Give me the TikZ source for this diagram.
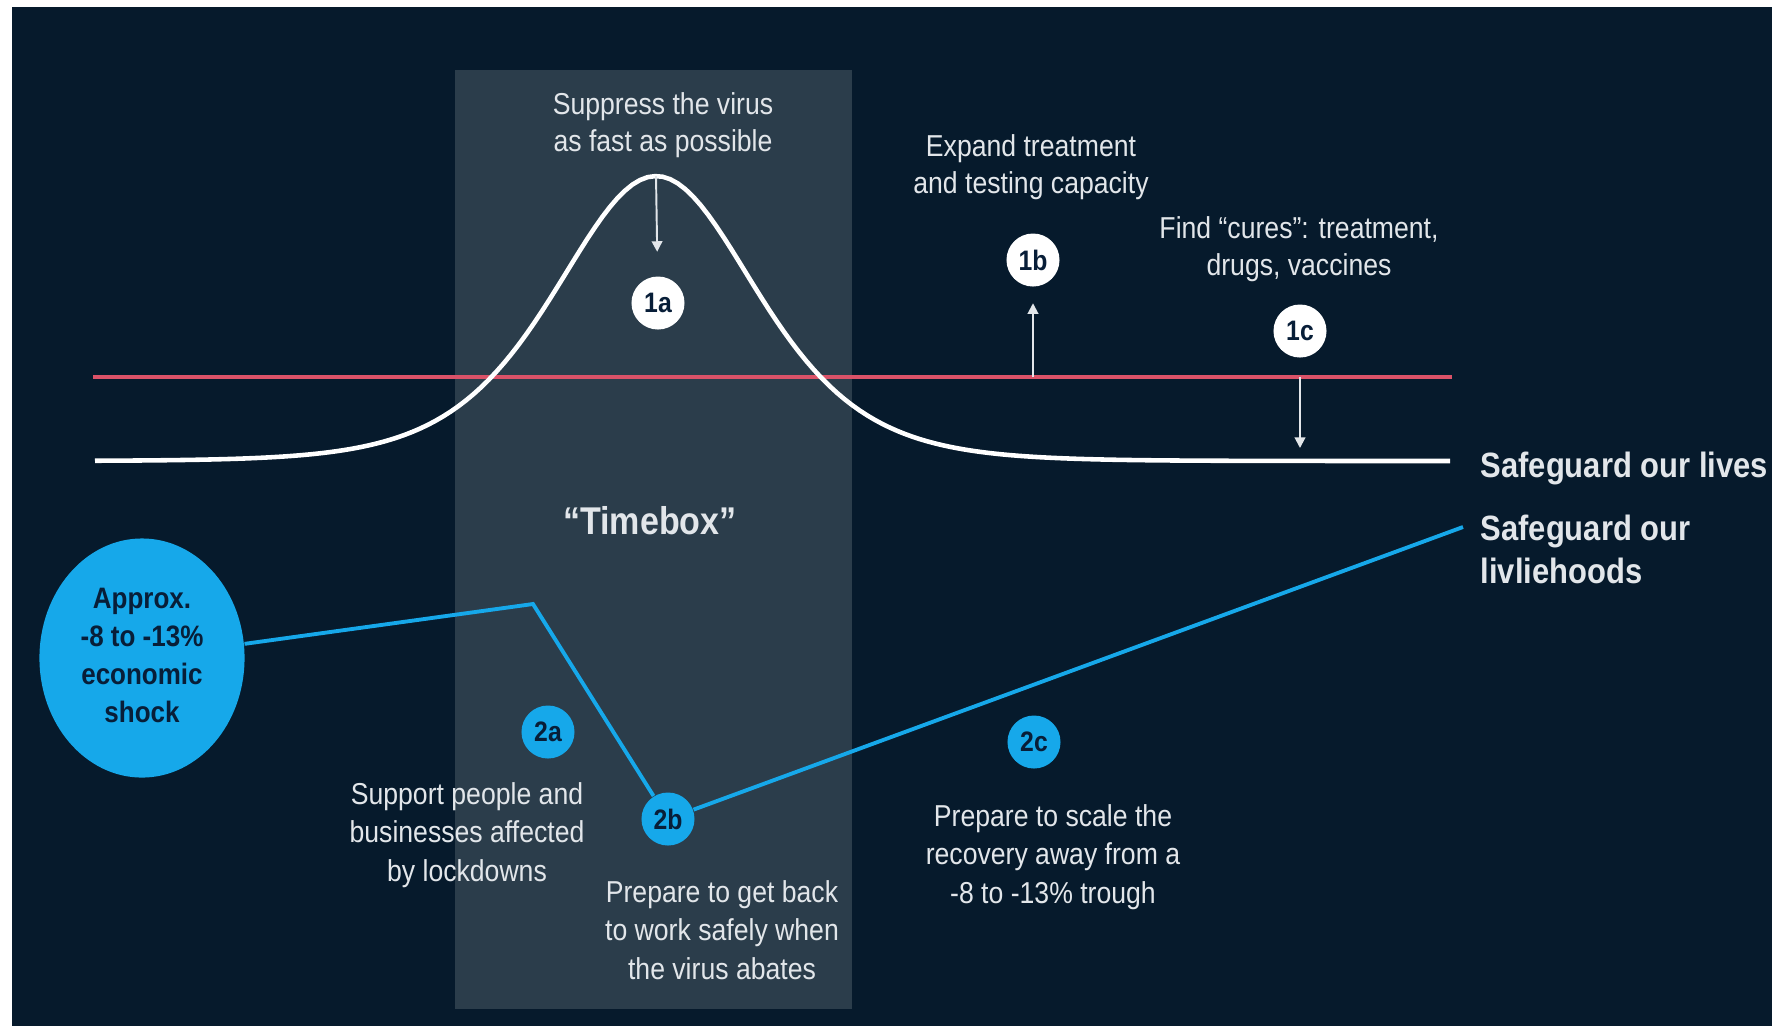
\documentclass[tikz,border=0pt]{standalone}
\usepackage{fontspec}
\setmainfont{Liberation Sans}[FakeStretch=0.88]
\usetikzlibrary{shapes.geometric,arrows.meta}
\definecolor{bgnavy}{RGB}{6,26,44}
\definecolor{boxgray}{RGB}{43,61,75}
\definecolor{capred}{RGB}{218,82,104}
\definecolor{econblue}{RGB}{22,168,234}
\definecolor{txtgray}{RGB}{226,230,234}
\definecolor{darknavy}{RGB}{8,30,56}
\begin{document}
\begin{tikzpicture}[x=0.01cm,y=-0.01cm,
    note/.style={text=txtgray,align=center,inner sep=0pt,font=\fontsize{8.6}{10.4}\selectfont},
    lownote/.style={note,font=\fontsize{8.6}{10.9}\selectfont},
    goal/.style={text=txtgray,align=left,inner sep=0pt,font=\bfseries\fontsize{10}{12.2}\selectfont},
    lifedot/.style={circle,fill=white,minimum size=0.53cm,inner sep=0pt,text=darknavy,font=\bfseries\fontsize{8}{9}\selectfont},
    econdot/.style={lifedot,fill=econblue},
    pointer/.style={draw=txtgray,line width=0.55pt,-{Triangle[width=3pt,length=3pt]}}]
        \useasboundingbox (0,0) rectangle (1772,1026);
        % background
        \fill[white] (0,0) rectangle (1772,1026);
        \fill[bgnavy] (12,7) rectangle (1772,1026);
        % timebox
        \fill[boxgray] (455,70) rectangle (852,1009);
        \node[text=txtgray,inner sep=0pt,anchor=base,font=\bfseries\fontsize{11}{13}\selectfont] (timebox) at (650,534) {“Timebox”};

        % capacity line and lives curve
        \draw[capred,line width=1.4pt] (93,377) -- (1452,377);
        \draw[white,line width=1.3pt] plot[domain=95:1450,samples=180] (\x,{461-285*(2/(exp(0.00742*(\x-656))+exp(-0.00742*(\x-656))))^2});

        % lives markers
        \coordinate (peak) at (656,176);
        \coordinate (red1b) at (1033,377);
        \coordinate (red1c) at (1300,377);
        \coordinate (tip1c) at (1300,448);
        \node[lifedot] (d1a) at (658,303) {1a};
        \node[lifedot] (d1b) at (1033,260) {1b};
        \node[lifedot] (d1c) at (1300,331) {1c};
        \draw[pointer,shorten >=0.24cm] (peak) -- (d1a);
        \draw[pointer,shorten >=0.16cm] (red1b) -- (d1b);
        \draw[pointer] (red1c) -- (tip1c);
        \node[note] (t1a) at (663,125) {Suppress the virus\\as fast as possible};
        \node[note] (t1b) at (1031,167) {Expand treatment\\and testing capacity};
        \node[note] (t1c) at (1299,249) {Find “cures”: treatment,\\drugs, vaccines};

        % livelihoods line
        \node[ellipse,fill=econblue,minimum width=2.05cm,minimum height=2.39cm,inner sep=0pt,text=darknavy,align=center,text depth=1.7pt,font=\bfseries\fontsize{8.4}{10.8}\selectfont] (shock) at (142,658) {Approx.\\-8 to -13\%\\economic\\shock};
        \coordinate (kink) at (533,604);
        \coordinate (lend) at (1463,527);
        \node[econdot] (d2a) at (548,732) {2a};
        \node[econdot] (d2b) at (668,819) {2b};
        \node[econdot] (d2c) at (1034,742) {2c};
        \draw[econblue,line width=1.1pt] (shock) -- (kink) -- (d2b) -- (lend);
        \node[lownote] (t2a) at (467,835) {Support people and\\businesses affected\\by lockdowns};
        \node[lownote] (t2b) at (722,930) {Prepare to get back\\to work safely when\\the virus abates};
        \node[lownote] (t2c) at (1053,857) {Prepare to scale the\\recovery away from a\\-8 to -13\% trough};

        % goals
        \node[goal,anchor=base west] (lives) at (1480,477) {Safeguard our lives};
        \node[goal,anchor=west] (livelihoods) at (1480,549) {Safeguard our\\livliehoods};
    \end{tikzpicture}
\end{document}
